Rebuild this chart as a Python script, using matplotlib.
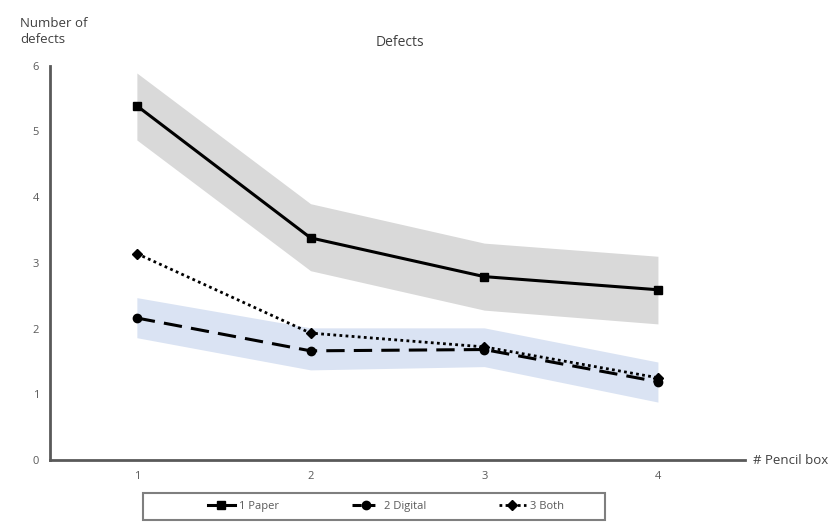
import matplotlib
matplotlib.use("Agg")
import matplotlib.pyplot as plt
from matplotlib.lines import Line2D
from matplotlib.patches import Rectangle

plt.rcParams["font.family"] = ["Open Sans", "DejaVu Sans"]

boxes = [1, 2, 3, 4]
paper = [5.39, 3.38, 2.79, 2.59]
paper_hi = [5.89, 3.90, 3.30, 3.10]
paper_lo = [4.87, 2.88, 2.28, 2.07]
digital = [2.16, 1.66, 1.68, 1.19]
digital_hi = [2.47, 2.01, 2.01, 1.49]
digital_lo = [1.86, 1.37, 1.42, 0.88]
both = [3.14, 1.93, 1.72, 1.25]

fig = plt.figure(figsize=(8.34, 5.22), dpi=100)
ax = fig.add_axes([0.06, 0.119, 0.833, 0.755])

ax.fill_between(boxes, paper_lo, paper_hi, color="#d9d9d9", linewidth=0, zorder=1)
ax.fill_between(boxes, digital_lo, digital_hi, color="#dae3f3", linewidth=0, zorder=1)

ax.plot(boxes, paper, color="black", linewidth=2.2, marker="s", markersize=6, zorder=3)
ax.plot(boxes, digital, color="black", linewidth=2.2, linestyle=(0, (6, 3)),
        marker="o", markersize=6, zorder=3)
ax.plot(boxes, both, color="black", linewidth=2.0, linestyle=(0, (1, 1.2)),
        marker="D", markersize=5, zorder=3)

ax.set_xlim(0.5, 4.5)
ax.set_ylim(0, 6)
ax.set_xticks(boxes)
ax.set_yticks(range(0, 7))
ax.tick_params(length=0, labelsize=8, colors="#595959", pad=8)

for side in ["top", "right"]:
    ax.spines[side].set_visible(False)
for side in ["left", "bottom"]:
    ax.spines[side].set_color("#595959")
    ax.spines[side].set_linewidth(2)

fig.text(0.024, 0.968, "Number of\ndefects", fontsize=9.5, color="#404040",
         va="top", ha="left", linespacing=1.35)
fig.text(0.48, 0.918, "Defects", fontsize=10, color="#404040", ha="center", va="center")
fig.text(0.903, 0.118, "# Pencil box", fontsize=9.5, color="#404040", ha="left", va="center")

handles = [
    Line2D([], [], color="black", linewidth=2.2, marker="s", markersize=6),
    Line2D([], [], color="black", linewidth=2.2, linestyle=(0, (3, 1.5)),
           marker="o", markersize=6),
    Line2D([], [], color="black", linewidth=2.0, linestyle=(0, (1, 1.2)),
           marker="D", markersize=5),
]
leg = fig.legend(handles, ["1 Paper", "2 Digital", "3 Both"], loc="center",
                 bbox_to_anchor=(0.463, 0.030), ncol=3, fontsize=8,
                 frameon=False, handlelength=2.4,
                 columnspacing=6.6, handletextpad=0.4)
for t in leg.get_texts():
    t.set_color("#595959")

fig.patches.append(Rectangle((0.171, 0.004), 0.554, 0.052, transform=fig.transFigure,
                             fill=False, edgecolor="#7f7f7f", linewidth=1.5))

fig.savefig("out.png", dpi=100)
